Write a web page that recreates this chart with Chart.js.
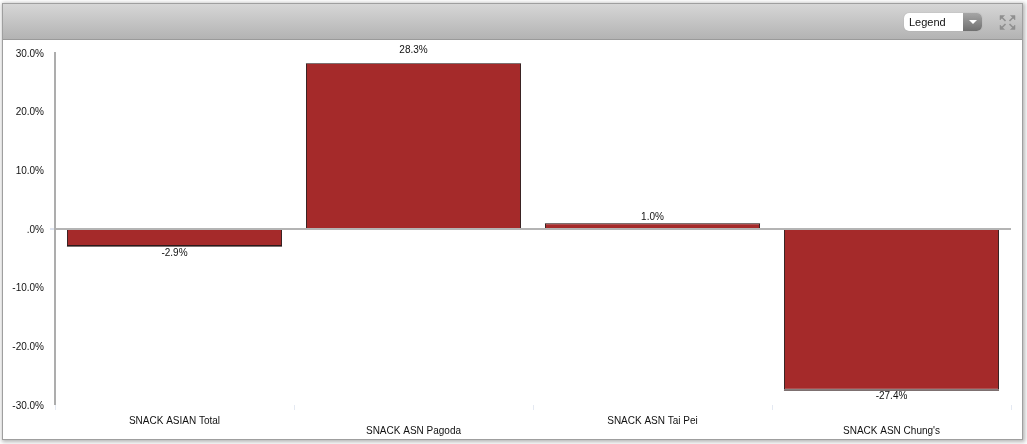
<!DOCTYPE html>
<html><head><meta charset="utf-8">
<style>
html,body{margin:0;padding:0;background:#fff;width:1027px;height:444px;overflow:hidden}
#frame{position:absolute;left:2px;top:3px;width:1019px;height:435px;border:1px solid #9f9f9f;box-shadow:1px 1px 4px 1px #b5b5b5;background:#fff}
#head{position:absolute;left:3px;top:4px;width:1019px;height:35px;background:linear-gradient(#d6d6d6,#b3b3b3);border-bottom:1px solid #9a9a9a}
canvas{position:absolute;left:0;top:0}
#sel{position:absolute;left:904px;top:13px;width:78px;height:18px;border-radius:5px;background:#fff;overflow:hidden;font:11px "Liberation Sans",Arial,sans-serif;line-height:18px;color:#111;box-shadow:0 0 1px #999}
#sel span{position:absolute;left:5px;top:0}
#sel i{position:absolute;left:59px;top:0;width:19px;height:18px;background:linear-gradient(#a6a6a6,#6f6f6f)}
#sel b{position:absolute;left:65px;top:7px;width:0;height:0;border-left:4px solid transparent;border-right:4px solid transparent;border-top:4px solid #fff}
#exp{position:absolute;left:999px;top:14px}
</style></head><body>
<div id="frame"></div><div id="head"></div>
<canvas id="c" width="1027" height="444"></canvas>
<div id="sel"><span>Legend</span><i></i><b></b></div>
<svg id="exp" width="17" height="17" viewBox="0 0 17 17"><g fill="#8f8f8f" stroke="#8f8f8f" stroke-width="1.6">
<path d="M1 1.5h4.5l-4.5 4.5z" stroke-width="0.5"/><path d="M3 3.5l3.5 3.5"/>
<path d="M16 1.5h-4.5l4.5 4.5z" stroke-width="0.5"/><path d="M14 3.5l-3.5 3.5"/>
<path d="M1 15.5h4.5l-4.5-4.5z" stroke-width="0.5"/><path d="M3 13.5l3.5-3.5"/>
<path d="M16 15.5h-4.5l4.5-4.5z" stroke-width="0.5"/><path d="M14 13.5l-3.5-3.5"/>
</g></svg>
<script src="https://cdn.jsdelivr.net/npm/chart.js@4"></script>
<script>
const categories=["SNACK ASIAN Total","SNACK ASN Pagoda","SNACK ASN Tai Pei","SNACK ASN Chung's"];
const values=[-2.9,28.3,1.0,-27.4];
const valueLabels=["-2.9%","28.3%","1.0%","-27.4%"];
const FONT='"Liberation Sans",Arial,sans-serif';
const barLabels={id:'barLabels',afterDatasetsDraw(ch){
  const ctx=ch.ctx,meta=ch.getDatasetMeta(0),gaps=[7,-13,-5.5,7];
  ctx.save();
  meta.data.forEach((b,i)=>{
    const p=b.getProps(['x','y','width']);
    ctx.strokeStyle='#7d7070';ctx.lineWidth=1;
    ctx.beginPath();ctx.moveTo(p.x-p.width/2,Math.round(p.y)+.5);ctx.lineTo(p.x+p.width/2,Math.round(p.y)+.5);ctx.stroke();
    ctx.font='10px '+FONT;ctx.fillStyle='#111';ctx.textAlign='center';ctx.textBaseline='middle';
    ctx.fillText(valueLabels[i],p.x,p.y+gaps[i]);
  });
  ctx.restore();
}};
new Chart(document.getElementById('c'),{
  type:'bar',
  data:{labels:categories,datasets:[{data:values,backgroundColor:'#a52a2a',borderColor:'#2b1a1a',borderWidth:1,barPercentage:0.9,categoryPercentage:1}]},
  plugins:[barLabels],
  options:{
    responsive:false,animation:false,
    layout:{padding:{left:0,top:53,right:16,bottom:0}},
    plugins:{legend:{display:false},tooltip:{enabled:false}},
    scales:{
      x:{
        afterFit(s){s.height=39;},
        border:{display:false},
        grid:{offset:true,drawOnChartArea:false,drawTicks:true,tickLength:5,tickColor:'#e4e9f2'},
        ticks:{maxRotation:0,minRotation:0,autoSkip:false,color:'#111',padding:6,font:{family:FONT,size:10,lineHeight:1.0},
          callback(v,i){return i%2?['',categories[i]]:categories[i];}}
      },
      y:{
        min:-30,max:30,
        afterFit(s){s.width=55;},
        border:{display:true,color:'#adadad',width:2},
        grid:{drawTicks:true,tickLength:5,tickColor:'#dde3ee',
          lineWidth:c=>c.tick&&c.tick.value===0?2:0,
          color:c=>c.tick&&c.tick.value===0?'#b4b4b4':'rgba(0,0,0,0)'},
        ticks:{stepSize:10,color:'#111',padding:6,labelOffset:1,font:{family:FONT,size:10},
          callback(v){return v===0?'.0%':v.toFixed(1)+'%';}}
      }
    }
  }
});
</script></body></html>
